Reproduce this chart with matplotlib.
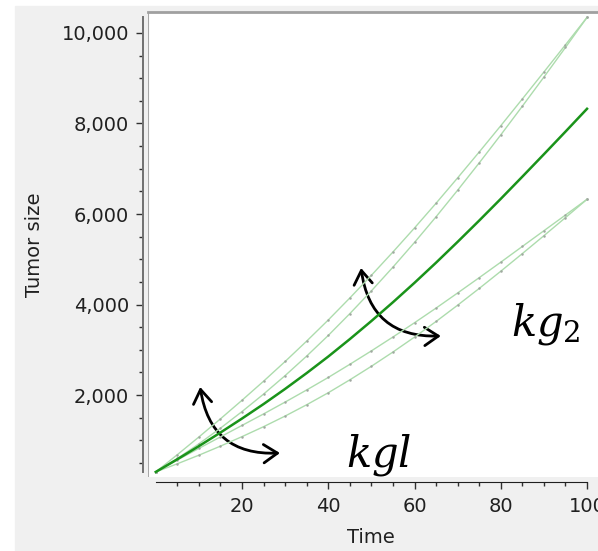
import matplotlib
matplotlib.use("Agg")
import matplotlib.pyplot as plt
import matplotlib.patches as mpatches
from matplotlib.lines import Line2D
from matplotlib.ticker import FixedLocator, StrMethodFormatter

# simulated tumor size vs time, reference and parameter variations
time = [0, 5, 10, 15, 20, 25, 30, 35, 40, 45, 50,
        55, 60, 65, 70, 75, 80, 85, 90, 95, 100]
size_ref = [300, 580, 870, 1170, 1480, 1800, 2135, 2485, 2850, 3235, 3635,
            4050, 4480, 4925, 5385, 5855, 6335, 6825, 7320, 7820, 8325]
size_kgl_up = [300, 681, 1072, 1473, 1884, 2305, 2741, 3192, 3658, 4144, 4645,
               5161, 5692, 6238, 6799, 7370, 7951, 8542, 9138, 9739, 10345]
size_kg2_up = [300, 597, 921, 1267, 1634, 2020, 2429, 2861, 3316, 3798, 4301,
               4826, 5372, 5939, 6526, 7129, 7748, 8382, 9026, 9680, 10344]
size_kg2_down = [300, 563, 820, 1074, 1328, 1582, 1844, 2112, 2388, 2678, 2975,
                 3282, 3597, 3921, 4255, 4593, 4935, 5283, 5630, 5977, 6325]
size_kgl_down = [300, 480, 670, 870, 1080, 1300, 1535, 1785, 2050, 2335, 2635,
                 2950, 3280, 3625, 3985, 4355, 4735, 5125, 5520, 5920, 6325]

x_major = [20, 40, 60, 80, 100]
x_minor = [5, 10, 15, 25, 30, 35, 45, 50, 55, 65, 70, 75, 85, 90, 95]
y_major = [2000, 4000, 6000, 8000, 10000]
y_minor = [500, 1000, 1500, 2500, 3000, 3500, 4500, 5000, 5500,
           6500, 7000, 7500, 8500, 9000, 9500]

W, H = 598, 551
plt.rcParams['font.family'] = 'DejaVu Sans'
plt.rcParams['mathtext.fontset'] = 'dejavuserif'

fig = plt.figure(figsize=(W / 100, H / 100), dpi=100)
fig.patch.set_facecolor('white')
fig.patches.append(mpatches.Rectangle((15 / W, 0), 1, (H - 6) / H,
                                      transform=fig.transFigure,
                                      color='#f0f0f0', zorder=-10))

ax = fig.add_axes([148 / W, (H - 477) / H, (606 - 148) / W, (477 - 12) / H])
ax.set_facecolor('white')

light = '#addcad'
for vals in [size_kgl_up, size_kg2_up, size_kg2_down, size_kgl_down]:
    ax.plot(time, vals, color=light, lw=1.0, marker='o', ms=1.8,
            mfc='#a0a8a0', mec='none')
ax.plot(time, size_ref, color='#1a931a', lw=1.8)

ax.set_xlim(-1.8, 104.4)
ax.set_ylim(188, 10464)

# detached axes like the original software
for side in ['left', 'bottom']:
    ax.spines[side].set_position(('outward', 3.6))
ax.spines['left'].set_bounds(300, 10345)
ax.spines['bottom'].set_bounds(0, 100)
ax.spines['left'].set_color('#707070')
ax.spines['bottom'].set_color('#202020')
ax.spines['left'].set_linewidth(1.4)
ax.spines['right'].set_visible(False)
ax.spines['top'].set_color('#a0a0a0')
ax.spines['top'].set_linewidth(2)
ax.add_artist(Line2D([0, 0], [0, 1], transform=ax.transAxes,
                     color='#a8a8a8', lw=1.5))

ax.xaxis.set_major_locator(FixedLocator(x_major))
ax.xaxis.set_minor_locator(FixedLocator(x_minor))
ax.yaxis.set_major_locator(FixedLocator(y_major))
ax.yaxis.set_minor_locator(FixedLocator(y_minor))
ax.yaxis.set_major_formatter(StrMethodFormatter('{x:,.0f}'))
ax.tick_params(which='major', length=5, width=1, color='#303030',
               labelsize=14, labelcolor='#202020')
ax.tick_params(which='minor', length=3, width=1, color='#303030')
ax.tick_params(axis='y', pad=5)
ax.tick_params(axis='x', pad=6)

ax.set_xlabel('Time', fontsize=14, color='#202020')
ax.set_ylabel('Tumor size', fontsize=14, color='#202020')
ax.xaxis.set_label_coords((371 - 148) / (606 - 148), -0.11)
ax.yaxis.set_label_coords(-0.228, 0.5)

# curved double arrows showing the parameter effect
for p_top, p_right in [((10.3, 2177), (28.8, 718)), ((47.6, 4807), (66.1, 3304))]:
    ax.add_patch(mpatches.FancyArrowPatch(
        p_top, p_right, connectionstyle='arc3,rad=0.45',
        arrowstyle='<->,head_length=0.45,head_width=0.3',
        mutation_scale=22, lw=2, color='black', shrinkA=0, shrinkB=0))

ax.text(51.8, 409, r'$kgl$', fontsize=30, ha='center', va='baseline')
ax.text(90.5, 3326, r'$kg_2$', fontsize=30, ha='center', va='baseline')

fig.savefig('out.png', dpi=100)
